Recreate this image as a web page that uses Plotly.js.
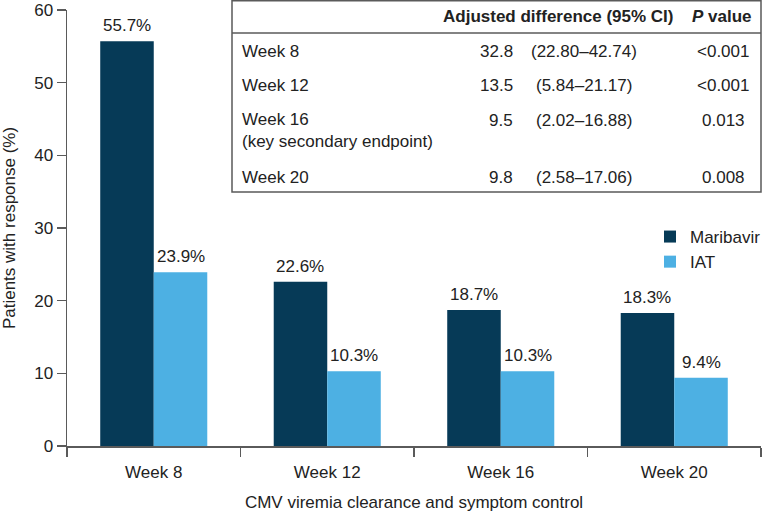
<!DOCTYPE html>
<html>
<head>
<meta charset="utf-8">
<script src="https://cdn.plot.ly/plotly-3.0.1.min.js"></script>
<style>html,body{margin:0;padding:0;background:#fff;overflow:hidden;width:762px;height:512px;}#chart{width:762px;height:512px;overflow:hidden;}</style>
</head>
<body>
<div id="chart"></div>
<script>
// ---- data ----
const categories = ["Week 8", "Week 12", "Week 16", "Week 20"];
const maribavir = [55.7, 22.6, 18.7, 18.3];
const iat = [23.9, 10.3, 10.3, 9.4];
const yTicks = [0, 10, 20, 30, 40, 50, 60];

const tableHeaderDiff = "Adjusted difference (95% CI)";
const tableHeaderP = "<i>P</i> value";
const tableRowLabels = ["Week 8", "Week 12", "Week 16<br>(key secondary endpoint)", "Week 20"];
const tableDiff = ["32.8", "13.5", "9.5", "9.8"];
const tableCI = ["(22.80–42.74)", "(5.84–21.17)", "(2.02–16.88)", "(2.58–17.06)"];
const tableP = ["<0.001", "<0.001", "0.013", "0.008"];

// ---- layout helpers (pixel -> paper) ----
const W = 762, H = 512;
const M = {l: 67, r: 1, t: 10, b: 66, autoexpand: false};
const PW = W - M.l - M.r, PH = H - M.t - M.b;
const px = x => (x - M.l) / PW;
const py = y => (M.t + PH - y) / PH;

const textColor = "#222222";
const lineColor = "#5a5a5a";
const FONT = "Liberation Sans, Arial, sans-serif";
const BARGAP = 0.383;

const traces = [
  {type: "bar", name: "Maribavir", x: categories, y: maribavir,
   marker: {color: "#063a57"}, hoverinfo: "none"},
  {type: "bar", name: "IAT", x: categories, y: iat,
   marker: {color: "#4db0e3"}, hoverinfo: "none"}
];

const ann = [];
const tf = {size: 17, color: textColor, family: FONT};

// value labels above bars, placed through the axis scales
const catW = PW / categories.length;
const barOff = catW * (1 - BARGAP) / 4;
[maribavir, iat].forEach((series, s) => {
  series.forEach((v, i) => {
    ann.push({xref: "x", yref: "y", x: categories[i], y: v, text: v.toFixed(1) + "%",
      xshift: (s === 0 ? -1 : 1) * barOff, yshift: 4, showarrow: false,
      xanchor: "center", yanchor: "bottom", font: tf});
  });
});

// table annotations
ann.push({xref: "paper", yref: "paper", x: px(558), y: py(17), text: "<b>" + tableHeaderDiff + "</b>",
  showarrow: false, xanchor: "center", yanchor: "middle", font: tf});
ann.push({xref: "paper", yref: "paper", x: px(722), y: py(17), text: "<b>" + tableHeaderP + "</b>",
  showarrow: false, xanchor: "center", yanchor: "middle", font: tf});
const rowY = [52, 86, 120, 177];
for (let i = 0; i < tableRowLabels.length; i++) {
  const multi = tableRowLabels[i].indexOf("<br>") >= 0;
  ann.push({xref: "paper", yref: "paper", x: px(240), y: py(rowY[i] - (multi ? 12 : 0)),
    text: tableRowLabels[i], showarrow: false, xanchor: "left", yanchor: multi ? "top" : "middle",
    align: "left", font: tf});
  ann.push({xref: "paper", yref: "paper", x: px(515), y: py(rowY[i]), text: tableDiff[i],
    showarrow: false, xanchor: "right", yanchor: "middle", font: tf});
  ann.push({xref: "paper", yref: "paper", x: px(584), y: py(rowY[i]), text: tableCI[i],
    showarrow: false, xanchor: "center", yanchor: "middle", font: tf});
  ann.push({xref: "paper", yref: "paper", x: px(723), y: py(rowY[i]), text: tableP[i],
    showarrow: false, xanchor: "center", yanchor: "middle", font: tf});
}

const shapes = [
  {type: "rect", xref: "paper", yref: "paper", x0: px(232), x1: px(761), y0: py(192), y1: py(0.8),
    line: {color: lineColor, width: 1.5}, fillcolor: "rgba(255,255,255,1)", layer: "above"},
  {type: "line", xref: "paper", yref: "paper", x0: px(232), x1: px(761), y0: py(33), y1: py(33),
    line: {color: lineColor, width: 1.5}}
];

const layout = {
  width: W, height: H,
  margin: M,
  paper_bgcolor: "#ffffff", plot_bgcolor: "#ffffff",
  font: {family: FONT, size: 17, color: textColor},
  barmode: "group", bargap: BARGAP, bargroupgap: 0,
  showlegend: true,
  legend: {x: px(650), y: py(219), xanchor: "left", yanchor: "top",
    font: {size: 17, color: textColor, family: FONT}, bgcolor: "rgba(0,0,0,0)", borderwidth: 0,
    traceorder: "normal"},
  xaxis: {
    type: "category", range: [-0.5, 3.5], tickson: "boundaries",
    ticks: "outside", ticklen: 9, tickcolor: lineColor, tickwidth: 1.5,
    showline: true, linecolor: lineColor, linewidth: 1.5,
    showgrid: false, zeroline: false, automargin: false,
    ticklabelstandoff: 10,
    tickfont: {size: 17, color: textColor, family: FONT},
    title: {text: "CMV viremia clearance and symptom control", font: {size: 17, color: textColor, family: FONT}, standoff: 16}
  },
  yaxis: {
    range: [0, 60], tickvals: yTicks, ticktext: yTicks.map(String),
    ticks: "outside", ticklen: 9, tickcolor: lineColor, tickwidth: 1.5,
    showline: true, linecolor: lineColor, linewidth: 1.5,
    showgrid: false, zeroline: false, automargin: false,
    tickfont: {size: 17, color: textColor, family: FONT},
    title: {text: "Patients with response (%)", font: {size: 17, color: textColor, family: FONT}, standoff: 14}
  },
  annotations: ann,
  shapes: shapes
};

Plotly.newPlot("chart", traces, layout, {staticPlot: true, displayModeBar: false});
</script>
</body>
</html>
